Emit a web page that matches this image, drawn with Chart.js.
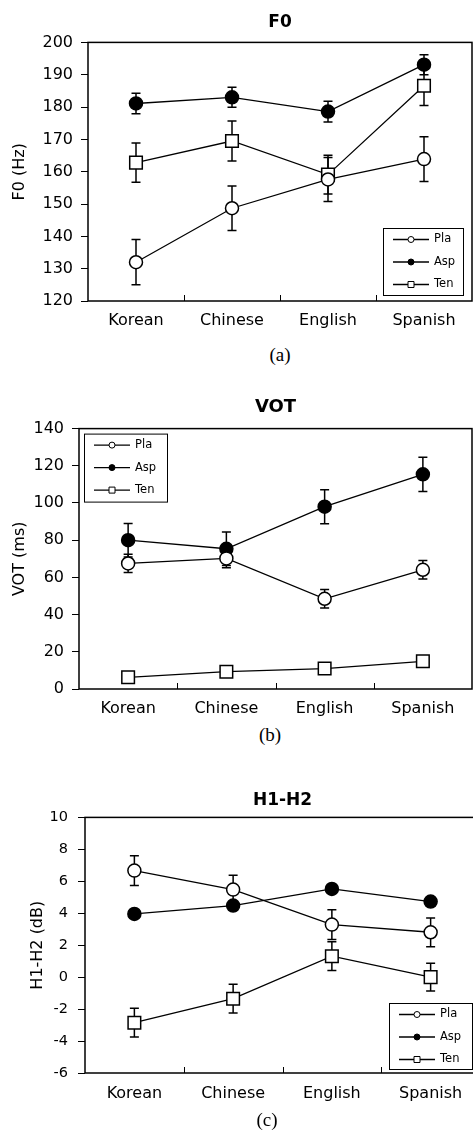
<!DOCTYPE html>
<html>
<head>
<meta charset="utf-8">
<script src="https://cdn.jsdelivr.net/npm/chart.js@4/dist/chart.umd.min.js"></script>
<style>
  html, body { margin: 0; padding: 0; background: #fff; overflow: hidden; }
  body { width: 473px; height: 1136px; position: relative; }
  .box { position: absolute; left: 0; }
  .cap { position: absolute; transform: translateX(-50%); font-family: "Liberation Serif", serif; font-size: 19px; line-height: 22px; color: #000; }
</style>
</head>
<body>
<div class="box" style="top:0;width:473px;height:340px"><canvas id="f0"></canvas></div>
<div class="cap" style="top:344px;left:280px">(a)</div>
<div class="box" style="top:380px;width:473px;height:340px"><canvas id="vot"></canvas></div>
<div class="cap" style="top:724px;left:270px">(b)</div>
<div class="box" style="top:760px;width:481px;height:350px"><canvas id="h1h2"></canvas></div>
<div class="cap" style="top:1109px;left:267px">(c)</div>

<script>
const languages = ['Korean', 'Chinese', 'English', 'Spanish'];
const seriesNames = ['Pla', 'Asp', 'Ten'];

// F0 (Hz)
const f0Pla = [132.0, 148.7, 157.6, 163.9];
const f0PlaErr = [7.0, 6.9, 6.8, 6.9];
const f0Asp = [181.1, 183.0, 178.6, 193.1];
const f0AspErr = [3.2, 3.1, 3.2, 3.1];
const f0Ten = [162.8, 169.5, 159.1, 186.6];
const f0TenErr = [6.1, 6.2, 6.0, 6.1];
const f0Ticks = [120, 200, 10];

// VOT (ms)
const votPla = [67.5, 70.2, 48.5, 64.1];
const votPlaErr = [4.9, 5.0, 5.0, 5.0];
const votAsp = [80.0, 75.4, 98.0, 115.4];
const votAspErr = [9.0, 9.0, 9.1, 9.2];
const votTen = [6.3, 9.3, 11.0, 14.9];
const votTenErr = [0, 0, 0, 0];
const votTicks = [0, 140, 20];

// H1-H2 (dB)
const hPla = [6.67, 5.48, 3.29, 2.81];
const hPlaErr = [0.93, 0.9, 0.93, 0.9];
const hAsp = [3.96, 4.48, 5.52, 4.73];
const hAspErr = [0, 0, 0, 0];
const hTen = [-2.85, -1.35, 1.31, 0.0];
const hTenErr = [0.9, 0.9, 0.9, 0.87];
const hTicks = [-6, 10, 2];

Chart.defaults.font.family = 'DejaVu Sans';
Chart.defaults.color = '#000';

// plot frame + little inward ticks between categories
const frame = {
  id: 'frame',
  afterDraw(chart) {
    const { ctx, chartArea: a } = chart;
    const x = chart.scales.x;
    ctx.save();
    ctx.strokeStyle = '#000';
    ctx.lineWidth = 1.5;
    ctx.strokeRect(a.left, a.top, a.right - a.left, a.bottom - a.top);
    ctx.lineWidth = 1;
    for (let i = 0; i < languages.length - 1; i++) {
      const px = Math.round((x.getPixelForValue(i) + x.getPixelForValue(i + 1)) / 2) + 0.5;
      ctx.beginPath();
      ctx.moveTo(px, a.bottom);
      ctx.lineTo(px, a.bottom - 6);
      ctx.stroke();
    }
    ctx.restore();
  }
};

const errorBars = {
  id: 'errorBars',
  beforeDatasetsDraw(chart) {
    const { ctx } = chart;
    const x = chart.scales.x, y = chart.scales.y;
    ctx.save();
    ctx.strokeStyle = '#000';
    ctx.lineWidth = 1.5;
    chart.data.datasets.forEach(ds => {
      ds.data.forEach((v, i) => {
        const e = ds.errors[i];
        if (!e) return;
        const px = x.getPixelForValue(i);
        const t = y.getPixelForValue(v + e);
        const b = y.getPixelForValue(v - e);
        ctx.beginPath();
        ctx.moveTo(px, t); ctx.lineTo(px, b);
        ctx.moveTo(px - 4.5, t); ctx.lineTo(px + 4.5, t);
        ctx.moveTo(px - 4.5, b); ctx.lineTo(px + 4.5, b);
        ctx.stroke();
      });
    });
    ctx.restore();
  }
};

const boxLegend = {
  id: 'boxLegend',
  afterDraw(chart, args, o) {
    const { ctx, chartArea: a } = chart;
    const bx = o.left != null ? a.left + o.left : a.right - o.right - o.width;
    const by = o.top != null ? a.top + o.top : a.bottom - o.bottom - o.height;
    ctx.save();
    ctx.fillStyle = '#fff';
    ctx.fillRect(bx, by, o.width, o.height);
    ctx.strokeStyle = '#000';
    ctx.lineWidth = 1;
    ctx.strokeRect(bx + 0.5, by + 0.5, o.width, o.height);
    ctx.font = '11.5px "DejaVu Sans"';
    ctx.textBaseline = 'middle';
    chart.data.datasets.forEach((ds, i) => {
      const ly = by + 11.5 + i * 22.5;
      ctx.lineWidth = 1.3;
      ctx.beginPath();
      ctx.moveTo(bx + 10, ly); ctx.lineTo(bx + 46, ly);
      ctx.stroke();
      ctx.lineWidth = 1;
      ctx.fillStyle = ds.pointBackgroundColor;
      ctx.beginPath();
      if (ds.pointStyle === 'rect') ctx.rect(bx + 25, ly - 3, 6, 6);
      else ctx.arc(bx + 28, ly, 3, 0, Math.PI * 2);
      ctx.fill();
      ctx.stroke();
      ctx.fillStyle = '#000';
      ctx.fillText(ds.label, bx + 51, ly);
    });
    ctx.restore();
  }
};

function series(label, data, errors, style, fill, radius) {
  return {
    label, data, errors,
    borderColor: '#000', borderWidth: 1.3,
    pointStyle: style, pointRadius: radius,
    pointBackgroundColor: fill, pointBorderColor: '#000', pointBorderWidth: 1.5,
    tension: 0, fill: false, clip: false
  };
}

function makeChart(id, p) {
  new Chart(document.getElementById(id), {
    type: 'line',
    data: {
      labels: languages,
      datasets: [
        series(seriesNames[0], p.pla, p.plaErr, 'circle', '#fff', 6.5),
        series(seriesNames[1], p.asp, p.aspErr, 'circle', '#000', 6.5),
        series(seriesNames[2], p.ten, p.tenErr, 'rect', '#fff', 8.9)
      ]
    },
    options: {
      responsive: true,
      maintainAspectRatio: false,
      animation: false,
      events: [],
      layout: { autoPadding: false, padding: { left: 0, right: 1, top: 0, bottom: 0 } },
      plugins: {
        legend: { display: false },
        tooltip: { enabled: false },
        title: {
          display: true, text: p.title, fullSize: false,
          font: { size: p.titleSize, weight: 'bold' },
          padding: { top: p.titleTop, bottom: p.titleBottom }
        },
        boxLegend: p.legend
      },
      scales: {
        x: {
          offset: true,
          grid: { display: false, drawTicks: false },
          border: { display: false },
          ticks: { font: { size: 16 }, padding: p.xPad, maxRotation: 0 },
          afterFit: s => { s.height = p.xHeight; }
        },
        y: {
          min: p.ticks[0], max: p.ticks[1],
          grid: { drawOnChartArea: false, drawTicks: true, tickLength: 7, color: '#000', lineWidth: 1 },
          border: { display: false },
          ticks: { stepSize: p.ticks[2], font: { size: p.tickSize }, padding: p.yPad },
          title: { display: true, text: p.yTitle, font: { size: 16 }, padding: { top: p.yTitleOff, bottom: 0 } },
          afterFit: s => { s.width = p.yWidth; }
        }
      }
    },
    plugins: [errorBars, frame, boxLegend]
  });
}

makeChart('f0', {
  title: 'F0', titleSize: 17, titleTop: 12, titleBottom: 10,
  pla: f0Pla, plaErr: f0PlaErr, asp: f0Asp, aspErr: f0AspErr, ten: f0Ten, tenErr: f0TenErr,
  ticks: f0Ticks, yTitle: 'F0 (Hz)', yTitleOff: 10, yWidth: 88, yPad: 8, tickSize: 16,
  xHeight: 39, xPad: 10,
  legend: { right: 9, bottom: 6, width: 80, height: 67 }
});

makeChart('vot', {
  title: 'VOT', titleSize: 18, titleTop: 17, titleBottom: 10,
  pla: votPla, plaErr: votPlaErr, asp: votAsp, aspErr: votAspErr, ten: votTen, tenErr: votTenErr,
  ticks: votTicks, yTitle: 'VOT (ms)', yTitleOff: 10, yWidth: 79, yPad: 8, tickSize: 16,
  xHeight: 31, xPad: 10,
  legend: { left: 5, top: 5, width: 83, height: 68 }
});

makeChart('h1h2', {
  title: 'H1-H2', titleSize: 17, titleTop: 30, titleBottom: 7,
  pla: hPla, plaErr: hPlaErr, asp: hAsp, aspErr: hAspErr, ten: hTen, tenErr: hTenErr,
  ticks: hTicks, yTitle: 'H1-H2 (dB)', yTitleOff: 28, yWidth: 85, yPad: 10, tickSize: 14.5,
  xHeight: 37, xPad: 11,
  legend: { right: 8, bottom: 4, width: 83, height: 66 }
});
</script>
</body>
</html>
